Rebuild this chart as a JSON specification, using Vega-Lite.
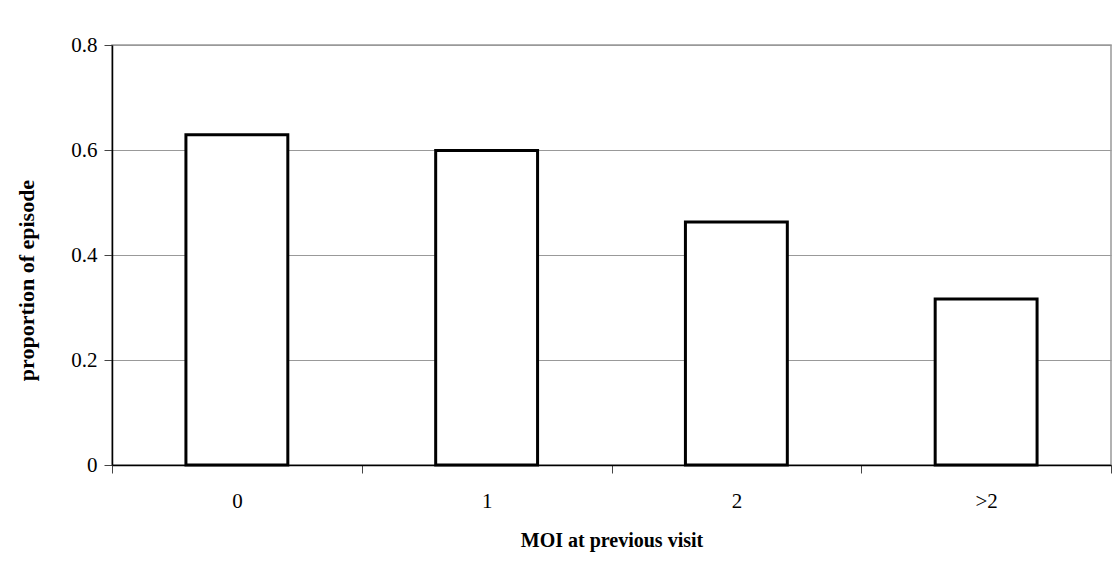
{
  "$schema": "https://vega.github.io/schema/vega-lite/v6.json",
  "width": 999,
  "height": 420,
  "autosize": {"type": "none"},
  "padding": {"left": 112, "top": 45, "right": 5, "bottom": 106},
  "background": "white",
  "config": {
    "view": {"stroke": "#999999", "strokeWidth": 1.5},
    "font": "Liberation Serif"
  },
  "data": {
    "values": [
      {"moi": "0", "proportion": 0.629},
      {"moi": "1", "proportion": 0.599},
      {"moi": "2", "proportion": 0.463},
      {"moi": ">2", "proportion": 0.316}
    ]
  },
  "mark": {"type": "bar", "fill": "white", "stroke": "black", "strokeWidth": 3, "width": {"band": 0.408}},
  "encoding": {
    "x": {
      "field": "moi",
      "type": "ordinal",
      "sort": null,
      "scale": {"paddingInner": 0, "paddingOuter": 0},
      "axis": {
        "title": "MOI at previous visit",
        "titleFont": "Liberation Serif",
        "titleFontSize": 20,
        "titleFontWeight": "bold",
        "titleColor": "black",
        "titlePadding": 19,
        "labelAngle": 0,
        "labelFont": "Liberation Serif",
        "labelFontSize": 21,
        "labelColor": "black",
        "labelPadding": 17,
        "tickBand": "extent",
        "tickSize": 8,
        "tickColor": "#444444",
        "domainColor": "black",
        "domainWidth": 1.5
      }
    },
    "y": {
      "field": "proportion",
      "type": "quantitative",
      "scale": {"domain": [0, 0.8], "nice": false},
      "axis": {
        "title": "proportion of episode",
        "titleFont": "Liberation Serif",
        "titleFontSize": 22,
        "titleFontWeight": "bold",
        "titleColor": "black",
        "titlePadding": 32,
        "titleY": 235,
        "values": [0, 0.2, 0.4, 0.6, 0.8],
        "format": "~g",
        "labelFont": "Liberation Serif",
        "labelFontSize": 21,
        "labelColor": "black",
        "labelPadding": 7,
        "tickSize": 8,
        "tickColor": "#444444",
        "domainColor": "black",
        "domainWidth": 1.5,
        "grid": true,
        "gridColor": "#999999",
        "gridWidth": 1
      }
    }
  }
}
